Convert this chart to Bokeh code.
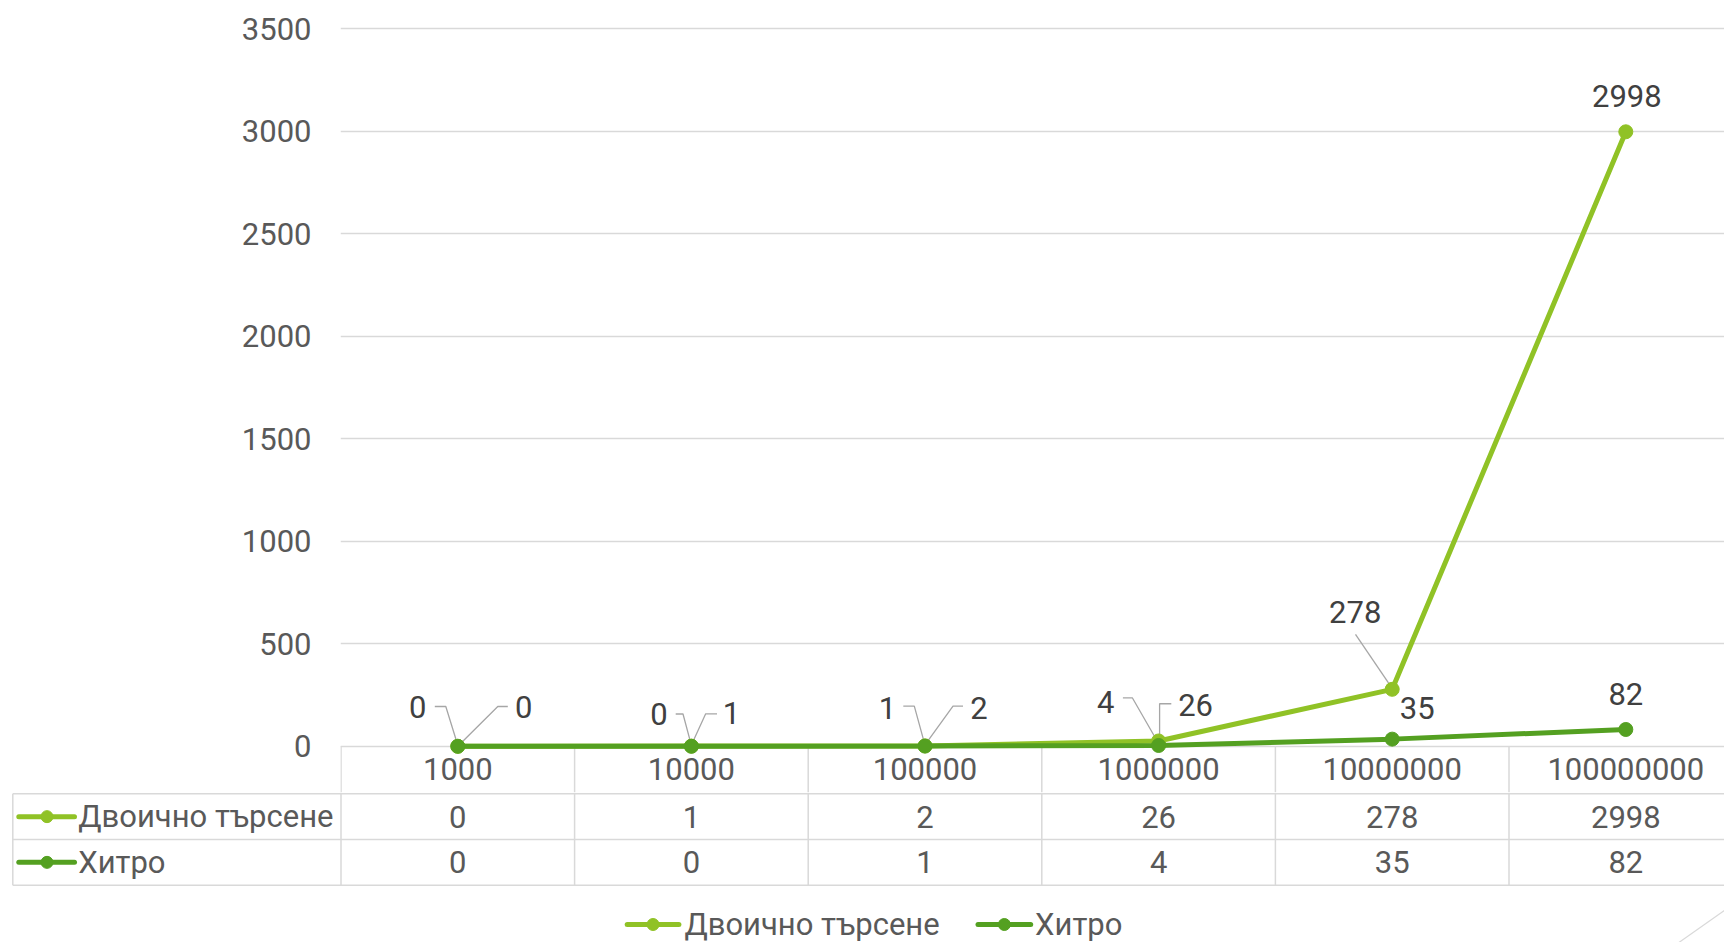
from bokeh.plotting import figure
from bokeh.layouts import column
from bokeh.models import Range1d, FixedTicker
from bokeh.core.properties import value
from bokeh.embed import file_html
from bokeh.resources import INLINE

# ---------------- data ----------------
categories = ["1000", "10000", "100000", "1000000", "10000000", "100000000"]
binary_search = [0, 1, 2, 26, 278, 2998]
smart_search = [0, 0, 1, 4, 35, 82]
series_names = ["Двоично търсене", "Хитро"]
y_ticks = [0, 500, 1000, 1500, 2000, 2500, 3000, 3500]

# ---------------- style / layout ----------------
LIGHT = "#90C226"
DARK = "#54A021"
GRID = "#D9D9D9"
AXIS_TXT = "#595959"
LABEL_TXT = "#404040"
LEADER = "#A6A6A6"
FONT = value("Roboto")
FS = "31px"

PAGE_W = 1724
PAGE_H = 942
COL_W = 233.6          # px per category
K = 0.20497            # px per value unit
ZERO_PAGE_Y = 745.8    # page y of value 0
LEFT_PAGE_X = 340.5    # page x of left plot edge
ROW_TOP = 793.3        # page y of first table data row top
ROW_H = 45.7

def px_to_x(px):
    return -0.5 + (px - LEFT_PAGE_X) / COL_W

def py_to_val(py):
    return (ZERO_PAGE_Y - py) / K

def py_to_row(py):
    return (py - ROW_TOP) / ROW_H

xs = list(range(len(categories)))

# label offsets in screen px relative to the point (dx right, dy down)
bin_dx = [66, 40, 54, 37, -37, 1]
bin_dy = [-39, -33, -37.5, -36, -77, -36]
smt_dx = [-40, -32.4, -37.5, -53, 25, 0]
smt_dy = [-39, -32, -37.8, -43.8, -30.8, -35.7]

bin_leaders = [
    [(50, -39.8), (40, -39.8), (1, -1)],
    [(25.6, -32.3), (14.3, -32.3), (0, -1)],
    [(38, -39.7), (28, -39.7), (0, -1)],
    [(12.7, -37.2), (1, -37.2), (1, -3)],
    [(-36.7, -55), (0, -1)],
    None,
]
smt_leaders = [
    [(-23, -39.8), (-12, -39.8), (0, -1)],
    [(-15.7, -32.3), (-8.4, -32.3), (0, -1)],
    [(-21.7, -39.9), (-10.7, -39.9), (0, -1)],
    [(-35.7, -47.7), (-26.3, -47.7), (0, -2)],
    None,
    None,
]

# ---------------- chart figure ----------------
A_FRAME_LEFT = 340
A_TOP = 16
A_BOTTOM = 792
x_start_A = px_to_x(A_FRAME_LEFT)
x_end_A = px_to_x(PAGE_W)
y_start_A = py_to_val(A_BOTTOM)
y_end_A = py_to_val(A_TOP)

A = figure(width=PAGE_W, height=A_BOTTOM,
           x_range=Range1d(x_start_A, x_end_A),
           y_range=Range1d(y_start_A, y_end_A),
           min_border_left=A_FRAME_LEFT, min_border_right=0,
           min_border_top=A_TOP, min_border_bottom=0,
           x_axis_location=None, tools="", toolbar_location=None,
           output_backend="svg", outline_line_color=None, frame_align=False)

A.yaxis.ticker = FixedTicker(ticks=y_ticks)
A.ygrid.ticker = FixedTicker(ticks=y_ticks)
A.ygrid.grid_line_color = GRID
A.ygrid.grid_line_width = 1.3
A.xgrid.visible = False
A.yaxis.axis_line_color = None
A.yaxis.major_tick_line_color = None
A.yaxis.minor_tick_line_color = None
A.yaxis.major_tick_out = 0
A.yaxis.major_tick_in = 0
A.yaxis.major_label_standoff = 29
A.yaxis.major_label_text_font = "Roboto"
A.yaxis.major_label_text_font_size = FS
A.yaxis.major_label_text_color = AXIS_TXT

# table dividers inside chart figure (header row)
bounds = [i - 0.5 for i in xs] + [len(xs) - 0.5]
A.segment(x0=bounds, y0=[0] * len(bounds), x1=bounds, y1=[y_start_A] * len(bounds),
          line_color=GRID, line_width=1.5)

# category header labels
hdr_val = py_to_val(768.6)
A.text(x=xs, y=[hdr_val] * len(xs), text=categories, text_font=FONT,
       text_font_size=FS, text_color=AXIS_TXT, text_align="center",
       text_baseline="middle")

# leader lines
def leader_lines(vals, leaders):
    lx, ly = [], []
    for i, (v, ld) in enumerate(zip(vals, leaders)):
        if ld is None:
            continue
        lx.append([xs[i] + dx / COL_W for dx, dy in ld])
        ly.append([v - dy / K for dx, dy in ld])
    return lx, ly

for vals, leaders in ((binary_search, bin_leaders), (smart_search, smt_leaders)):
    lx, ly = leader_lines(vals, leaders)
    A.multi_line(xs=lx, ys=ly, line_color=LEADER, line_width=1.3)

# series
A.line(xs, binary_search, line_color=LIGHT, line_width=5)
A.scatter(xs, binary_search, size=14, fill_color=LIGHT, line_color=LIGHT)
A.line(xs, smart_search, line_color=DARK, line_width=5)
A.scatter(xs, smart_search, size=14, fill_color=DARK, line_color=DARK)

# data labels
A.text(x=xs, y=binary_search, text=[str(v) for v in binary_search],
       x_offset=bin_dx, y_offset=bin_dy, text_font=FONT, text_font_size=FS,
       text_color=LABEL_TXT, text_align="center", text_baseline="middle")
A.text(x=xs, y=smart_search, text=[str(v) for v in smart_search],
       x_offset=smt_dx, y_offset=smt_dy, text_font=FONT, text_font_size=FS,
       text_color=LABEL_TXT, text_align="center", text_baseline="middle")

# ---------------- table / legend figure ----------------
B_TOP = A_BOTTOM
B_BOTTOM = PAGE_H
B_LEFT = 11
B = figure(width=PAGE_W, height=B_BOTTOM - B_TOP,
           x_range=Range1d(px_to_x(B_LEFT), px_to_x(PAGE_W)),
           y_range=Range1d(py_to_row(B_BOTTOM), py_to_row(B_TOP)),
           min_border_left=B_LEFT, min_border_right=0,
           min_border_top=0, min_border_bottom=0,
           x_axis_location=None, y_axis_location=None,
           tools="", toolbar_location=None,
           output_backend="svg", outline_line_color=None, frame_align=False)
B.xgrid.visible = False
B.ygrid.visible = False

table_left = px_to_x(12.3)
n_rows = len(series_names)
# horizontal row lines
B.segment(x0=[table_left] * (n_rows + 1), y0=list(range(n_rows + 1)),
          x1=[px_to_x(PAGE_W)] * (n_rows + 1), y1=list(range(n_rows + 1)),
          line_color=GRID, line_width=1.5)
# vertical dividers (header row part continues from chart figure)
B.segment(x0=bounds, y0=[py_to_row(B_TOP)] * len(bounds), x1=bounds,
          y1=[n_rows] * len(bounds), line_color=GRID, line_width=1.5)
# table left border spans data rows only
B.segment(x0=[table_left], y0=[0], x1=[table_left], y1=[n_rows],
          line_color=GRID, line_width=1.5)

colors = [LIGHT, DARK]
series_vals = [binary_search, smart_search]
for r, (name, col, vals) in enumerate(zip(series_names, colors, series_vals)):
    yc = r + 0.5
    B.text(x=xs, y=[yc] * len(xs), text=[str(v) for v in vals], text_font=FONT,
           text_font_size=FS, text_color=AXIS_TXT, text_align="center",
           text_baseline="middle")
    B.segment(x0=[px_to_x(18.3)], y0=[yc], x1=[px_to_x(74)], y1=[yc],
              line_color=col, line_width=5, line_cap="round")
    B.scatter(x=[px_to_x(46.5)], y=[yc], size=12, fill_color=col, line_color=col)
    B.text(x=[px_to_x(77.7)], y=[yc], text=[name], text_font=FONT,
           text_font_size=FS, text_color=AXIS_TXT, text_align="left",
           text_baseline="middle")

# bottom legend
leg_y = py_to_row(924)
leg_keys = [(626.7, 678.4, 683.9), (977.5, 1030.2, 1034.6)]
for (k0, k1, tx), name, col in zip(leg_keys, series_names, colors):
    B.segment(x0=[px_to_x(k0)], y0=[leg_y], x1=[px_to_x(k1)], y1=[leg_y],
              line_color=col, line_width=5, line_cap="round")
    B.scatter(x=[px_to_x((k0 + k1) / 2)], y=[leg_y], size=12,
              fill_color=col, line_color=col)
    B.text(x=[px_to_x(tx)], y=[leg_y], text=[name], text_font=FONT,
           text_font_size=FS, text_color=AXIS_TXT, text_align="left",
           text_baseline="middle")

# slide decoration line (bottom right)
B.segment(x0=[px_to_x(1677)], y0=[py_to_row(943)], x1=[px_to_x(PAGE_W)],
          y1=[py_to_row(910)], line_color=GRID, line_width=1.2)

layout = column(A, B, spacing=0)
open("out.html", "w").write(file_html(layout, INLINE))
